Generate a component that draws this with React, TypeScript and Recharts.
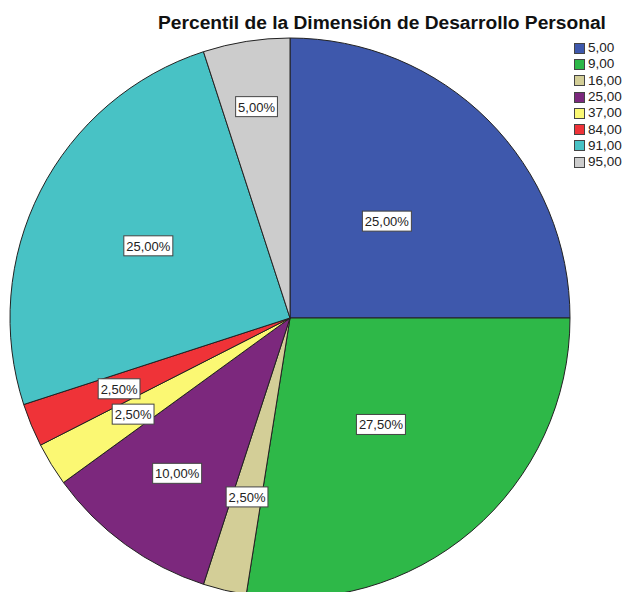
import React from "react";
import { PieChart, Pie, Cell, Legend } from "recharts";

const categories = ["5,00", "9,00", "16,00", "25,00", "37,00", "84,00", "91,00", "95,00"];
const percents = [25.0, 27.5, 2.5, 10.0, 2.5, 2.5, 25.0, 5.0];
const colors = ["#3E58AC", "#2EB848", "#D3CE97", "#7C287D", "#FBF873", "#EF3338", "#48C2C5", "#CCCCCC"];

const data = categories.map((c, i) => ({ name: c, value: percents[i] }));

const labelRadius = [137, 140, 184, 192, 184, 185, 159, 214];

const fmt = (v: number) => v.toFixed(2).replace(".", ",") + "%";

const RADIAN = Math.PI / 180;
const FONT = "Liberation Sans, Arial, sans-serif";

const charW = (ch: string) => (ch === "," ? 3.6 : ch === "%" ? 11.6 : 7.2);

const renderLabel = (props: any) => {
  const { cx, cy, midAngle, index, value } = props;
  const r = labelRadius[index];
  const x = cx + r * Math.cos(-midAngle * RADIAN);
  const y = cy + r * Math.sin(-midAngle * RADIAN);
  const text = fmt(value);
  const tw = text.split("").reduce((s, ch) => s + charW(ch), 0);
  const w = tw + 5;
  const h = 20;
  return (
    <g>
      <rect x={x - w / 2} y={y - h / 2} width={w} height={h} fill="#fff" stroke="#444" strokeWidth={1} />
      <text x={x} y={y + 5} textAnchor="middle" fontSize={13} fontFamily={FONT} fill="#222">
        {text}
      </text>
    </g>
  );
};

const LegendContent = () => (
  <div style={{ fontFamily: FONT, fontSize: 13.5, color: "#222" }}>
    {categories.map((c, i) => (
      <div key={c} style={{ display: "flex", alignItems: "center", height: 16.3, lineHeight: "16px", whiteSpace: "nowrap" }}>
        <span
          style={{
            display: "inline-block",
            boxSizing: "border-box",
            width: 11,
            height: 11,
            background: colors[i],
            border: "1px solid #444",
            marginRight: 3,
          }}
        />
        <span>{c}</span>
      </div>
    ))}
  </div>
);

export default function App() {
  return (
    <div style={{ position: "fixed", top: 0, left: 0, width: 624, height: 592, overflow: "hidden", background: "#fff" }}>
      <PieChart width={624} height={592} margin={{ top: 0, right: 0, bottom: 0, left: 0 }}>
        <text
          x={382}
          y={29}
          textAnchor="middle"
          fontSize={19.2}
          fontWeight="bold"
          fontFamily={FONT}
          fill="#111"
        >
          Percentil de la Dimensión de Desarrollo Personal
        </text>
        <Pie
          data={data}
          dataKey="value"
          nameKey="name"
          cx={290}
          cy={318}
          outerRadius={280}
          startAngle={90}
          endAngle={-270}
          stroke="#222"
          strokeWidth={1}
          isAnimationActive={false}
          label={renderLabel}
          labelLine={false}
        >
          {data.map((d, i) => (
            <Cell key={d.name} fill={colors[i]} />
          ))}
        </Pie>
        <Legend
          layout="vertical"
          verticalAlign="top"
          align="right"
          content={LegendContent}
          wrapperStyle={{ position: "absolute", top: 40, left: 574, width: 50 }}
        />
      </PieChart>
    </div>
  );
}
